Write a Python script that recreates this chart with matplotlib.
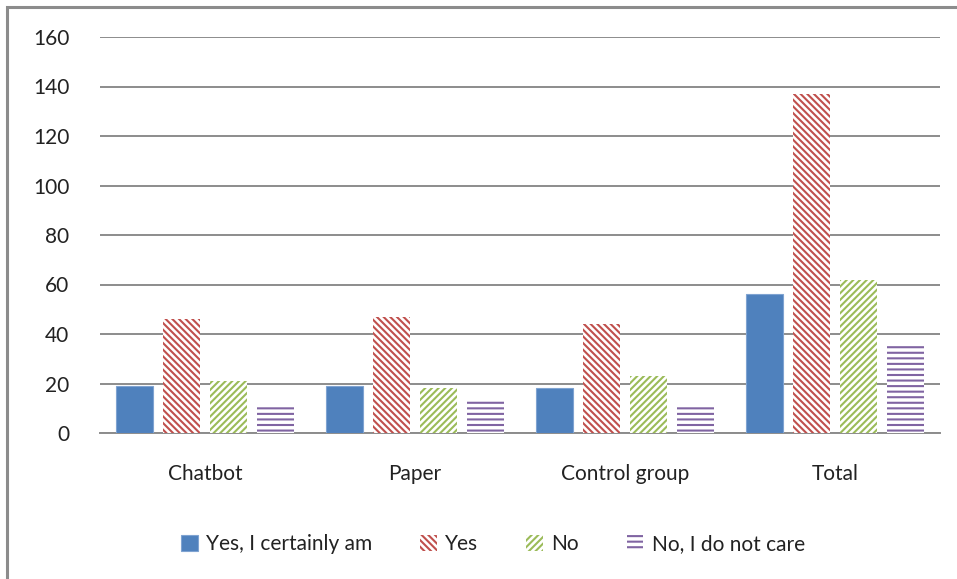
import matplotlib.pyplot as plt
import numpy as np
from matplotlib.patches import Rectangle

groups = ["Chatbot", "Paper", "Control group", "Total"]
series = ["Yes, I certainly am", "Yes", "No", "No, I do not care"]
yes_certainly = [19, 19, 18, 56]
yes = [46, 47, 44, 137]
no = [21, 18, 23, 62]
no_care = [11, 13, 11, 36]

colors = ["#4F81BD", "#C0504D", "#9BBB59", "#8064A2"]
hatches = [None, "\\\\\\\\\\", "/////", "---"]

plt.rcParams['font.family'] = ['Lato', 'DejaVu Sans']
plt.rcParams['hatch.linewidth'] = 1.5

fig = plt.figure(figsize=(9.57, 5.79), dpi=100)
ax = fig.add_axes([100/957, 1-433/579, 840/957, 396/579])

# outer chart frame
fig.patches.append(Rectangle((7/957, -0.1), 1.2, 1-7/579+0.1, transform=fig.transFigure,
                             fill=False, edgecolor="#8c8c8c", linewidth=2.2))

x = np.arange(len(groups))
w = 0.18
step = 0.224
for i, vals in enumerate([yes_certainly, yes, no, no_care]):
    pos = x + (i - 1.5) * step
    if hatches[i] is None:
        ax.bar(pos, vals, w, color=colors[i], edgecolor="#7fa3d1", linewidth=0.8,
               label=series[i], zorder=3)
    else:
        ax.bar(pos, vals, w, facecolor="white", edgecolor=colors[i], hatch=hatches[i],
               linewidth=0, label=series[i], zorder=3)

ax.set_xlim(-0.5, 3.5)
ax.set_ylim(0, 160)
ax.set_yticks(range(0, 161, 20))
ax.set_xticks(x)
ax.set_xticklabels(groups)
ax.yaxis.grid(True, color="#8c8c8c", linewidth=1.4, zorder=0)
ax.set_axisbelow(True)
for s in ["top", "right", "left"]:
    ax.spines[s].set_visible(False)
ax.spines["bottom"].set_color("#8c8c8c")
ax.spines["bottom"].set_linewidth(1.4)
ax.tick_params(axis="y", length=0, pad=22, labelsize=15, colors="#222222")
ax.tick_params(axis="x", length=0, pad=22, labelsize=15, colors="#222222")

fig.legend(loc="center", bbox_to_anchor=(493/957, 1-544/579), ncol=4, frameon=False,
           fontsize=15, handlelength=0.8, handleheight=0.8, handletextpad=0.4,
           columnspacing=2.3, labelcolor="#222222")

fig.savefig("out.png", dpi=100)
